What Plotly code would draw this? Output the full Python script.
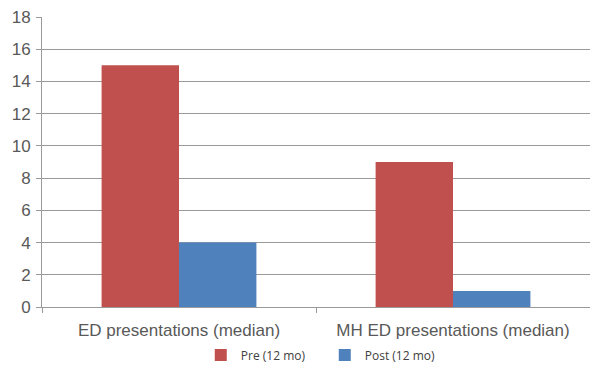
import plotly.graph_objects as go

categories = ["ED presentations (median)", "MH ED presentations (median)"]
pre_values = [15, 9]
post_values = [4, 1]
series_names = ["Pre (12 mo)", "Post (12 mo)"]
y_ticks = [0, 2, 4, 6, 8, 10, 12, 14, 16, 18]

fig = go.Figure()
fig.add_trace(go.Bar(x=categories, y=pre_values, name=series_names[0],
                     marker=dict(color="#C0504D", line=dict(width=0))))
fig.add_trace(go.Bar(x=categories, y=post_values, name=series_names[1],
                     marker=dict(color="#4F81BD", line=dict(width=0))))

axis_grey = "#9a9a9a"
fig.update_layout(
    width=590, height=366,
    margin=dict(l=42, r=0, t=17, b=59),
    paper_bgcolor="white", plot_bgcolor="white",
    barmode="group", bargap=0.435, bargroupgap=0,
    font=dict(family="Liberation Sans, Arial, sans-serif", color="#595959"),
    legend=dict(orientation="h", x=0.516, xanchor="center",
                yref="container", y=0.03, yanchor="middle",
                font=dict(size=12, family="Open Sans, sans-serif", color="#404040"),
                itemwidth=30, entrywidth=79, traceorder="normal"),
    showlegend=True,
)
fig.update_xaxes(
    showline=True, linecolor=axis_grey, linewidth=1,
    ticks="outside", tickson="boundaries", ticklen=5, tickcolor=axis_grey,
    tickfont=dict(size=17, color="#595959"),
    ticklabelstandoff=8, automargin=False,
    showgrid=False,
)
fig.update_yaxes(
    range=[0, 18], tickvals=y_ticks,
    showline=True, linecolor=axis_grey, linewidth=1,
    ticks="outside", ticklen=5, tickcolor=axis_grey,
    showgrid=True, gridcolor=axis_grey, gridwidth=1,
    tickfont=dict(size=17, color="#595959"),
    ticklabelstandoff=2, automargin=False,
    zeroline=False,
)
fig.write_html("out.html")
